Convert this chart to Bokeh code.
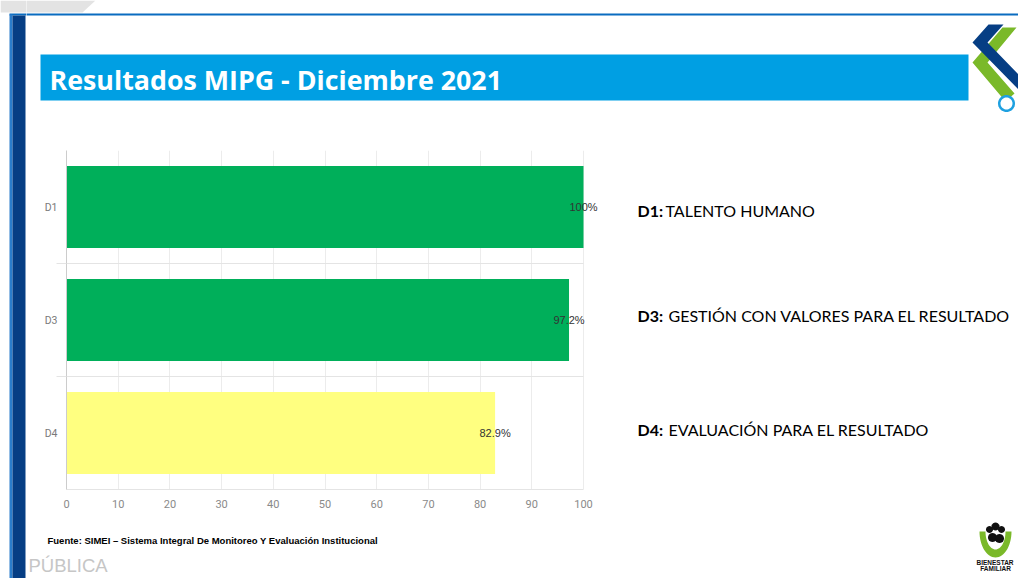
import math
from bokeh.plotting import figure
from bokeh.layouts import column, row
from bokeh.models import Range1d, FixedTicker, ColumnDataSource, LabelSet
from bokeh.core.properties import value
from bokeh.embed import file_html
from bokeh.resources import INLINE

# ---------------- data ----------------
categories = ["D1", "D3", "D4"]
values = [100, 97.2, 82.9]
bar_colors = ["#00AF5A", "#00AF5A", "#FFFF80"]
x_ticks = [0, 10, 20, 30, 40, 50, 60, 70, 80, 90, 100]
legend_codes = ["D1:", "D3:", "D4:"]
legend_names = ["TALENTO HUMANO", "GESTIÓN CON VALORES PARA EL RESULTADO",
                "EVALUACIÓN PARA EL RESULTADO"]
title_text = "Resultados MIPG - Diciembre 2021"
source_note = "Fuente: SIMEI – Sistema Integral De Monitoreo Y Evaluación Institucional"
public_mark = "PÚBLICA"
logo_words = ["BIENESTAR", "FAMILIAR"]

W, H = 1018, 578
SX = 26  # width of the left band panel


# ---------------- decoration panels (1 unit = 1 pixel, y downwards) ----------------
def panel(x0, x1, y0, y1):
    f = figure(width=x1 - x0, height=y1 - y0, x_range=Range1d(x0, x1), y_range=Range1d(y1, y0),
               output_backend="svg", toolbar_location=None, x_axis_type=None, y_axis_type=None,
               min_border=0)
    f.frame_align = False
    f.outline_line_color = None
    f.background_fill_color = "white"
    f.border_fill_color = "white"
    return f


def rect(f, l, t, r, b, color):
    f.quad(left=[l], right=[r], top=[t], bottom=[b], fill_color=color, line_color=None)


def poly(f, pts, color):
    f.patch([a for a, b in pts], [b for a, b in pts], fill_color=color, line_color=None)


def ellipse_pts(cx, cy, rx, ry, k=40, a0=0, a1=360):
    return [(cx + rx * math.cos(math.radians(a0 + (a1 - a0) * i / k)),
             cy + ry * math.sin(math.radians(a0 + (a1 - a0) * i / k))) for i in range(k + 1)]


def txt(f, x, y, text, size, color="#000000", font="Lato", style="normal", align="left"):
    f.text(x=[x], y=[y], text=[text], text_font=value(font), text_font_size=value(size),
           text_color=color, text_font_style=style, text_align=align,
           text_baseline="middle")


def top_deco(f):
    poly(f, [(0, 0), (95, 0), (82, 12), (0, 12)], "#e3e3e3")
    rect(f, 9, 13, W, 15, "#0A6CC0")


# full-height left band
strip = panel(0, SX, 0, H)
top_deco(strip)
rect(strip, 9, 14, 12, H, "#2A7DCB")
rect(strip, 12, 15, 25, H, "#063E84")

# header
head = panel(SX, W, 0, 150)
top_deco(head)
rect(head, 40, 54, 968, 100, "#009FE3")
txt(head, 49, 78.5, title_text, "26.8px", "#FFFFFF", "Open Sans", "bold")
poly(head, [(1002, 27), (1016, 27), (987, 62), (1014, 93), (1005, 101), (972, 62)], "#7AB929")
poly(head, [(988, 24), (1003, 24), (987, 42), (1018, 74), (1018, 89), (972, 42)], "#063E84")
poly(head, ellipse_pts(1006, 103, 8.5, 8.5), "#1EA0E0")
poly(head, ellipse_pts(1006, 103, 6.0, 6.0), "#FFFFFF")

# right legend
leg = panel(600, W, 150, 520)
leg_mid = [209.5, 314.5, 429]
for code, name, ym in zip(legend_codes, legend_names, leg_mid):
    txt(leg, 637, ym, code, "16px", "#000000", "Lato", "bold")
    txt(leg, 665 if code == "D1:" else 668, ym, name, "16px", "#000000", "Lato", "normal")

# footer
foot = panel(SX, W, 520, H)
txt(foot, 47, 540, source_note, "9.5px", "#000000", "Liberation Sans", "bold")
txt(foot, 28, 565, public_mark, "18.5px", "#c6c6c6", "Liberation Sans", "normal")
poly(foot, ellipse_pts(995, 531, 16, 26, 30, 0, 180) + ellipse_pts(995, 531, 10, 18, 30, 180, 0),
     "#7AB929")
for cx, cy, r in [(989, 529, 3.5), (995, 526, 4), (1001, 529, 3.5), (992, 537, 4.5), (999, 538, 4.5)]:
    poly(foot, ellipse_pts(cx, cy, r, r, 20), "#111111")
txt(foot, 994.5, 561.5, logo_words[0], "6.5px", "#111111", "Liberation Sans", "bold", "center")
txt(foot, 995, 568, logo_words[1], "6.5px", "#111111", "Liberation Sans", "bold", "center")

# ---------------- bar chart ----------------
n = len(categories)
ypos = [n - i - 0.5 for i in range(n)]
labels = [f"{v:g}%" for v in values]
src = ColumnDataSource(dict(cat=categories, y=ypos, v=values, c=bar_colors, lab=labels))

px_per_unit = 517 / 100.0
x_end = (600 - 66) / px_per_unit
p = figure(width=600 - SX, height=370, x_range=Range1d(0, x_end), y_range=Range1d(0, n),
           output_backend="svg", toolbar_location=None,
           min_border_left=66 - SX, min_border_right=0, min_border_top=0, min_border_bottom=31)
p.frame_align = False
p.outline_line_color = None
p.background_fill_color = "white"
p.border_fill_color = "white"

p.xgrid.grid_line_color = "#ececec"
p.ygrid.grid_line_color = None
seps = list(range(1, n))
p.segment(x0=[x_ticks[0]] * len(seps), x1=[x_ticks[-1]] * len(seps), y0=seps, y1=seps,
          line_color="#e4e4e4", line_width=1)

p.hbar(y="y", right="v", left=0, height=0.725, fill_color="c", line_color=None, source=src)

p.add_layout(LabelSet(x="v", y="y", text="lab", source=src, text_align="center",
                      text_baseline="middle", text_font_size="11px",
                      text_font=value("Liberation Sans"), text_color="#333333"))

xa = p.xaxis[0]
xa.ticker = FixedTicker(ticks=x_ticks)
xa.bounds = (x_ticks[0], x_ticks[-1])
xa.axis_line_color = "#e4e4e4"
xa.major_tick_line_color = None
xa.minor_tick_line_color = None
xa.major_tick_out = 0
xa.major_label_standoff = 10
xa.major_label_text_color = "#8a8a8a"
xa.major_label_text_font = "Roboto"
xa.major_label_text_font_size = "11px"

ya = p.yaxis[0]
ya.ticker = FixedTicker(ticks=ypos, minor_ticks=seps)
ya.major_label_overrides = {y: c for y, c in zip(ypos, categories)}
ya.axis_line_color = "#cccccc"
ya.major_tick_line_color = None
ya.major_tick_out = 0
ya.minor_tick_out = 10
ya.minor_tick_in = 0
ya.minor_tick_line_color = "#e4e4e4"
ya.major_label_standoff = -1
ya.major_label_text_color = "#7a7a7a"
ya.major_label_text_font = "Roboto"
ya.major_label_text_font_size = "10.5px"

layout = row(strip, column(head, row(p, leg, spacing=0), foot, spacing=0), spacing=0)
open("out.html", "w").write(file_html(layout, INLINE))
